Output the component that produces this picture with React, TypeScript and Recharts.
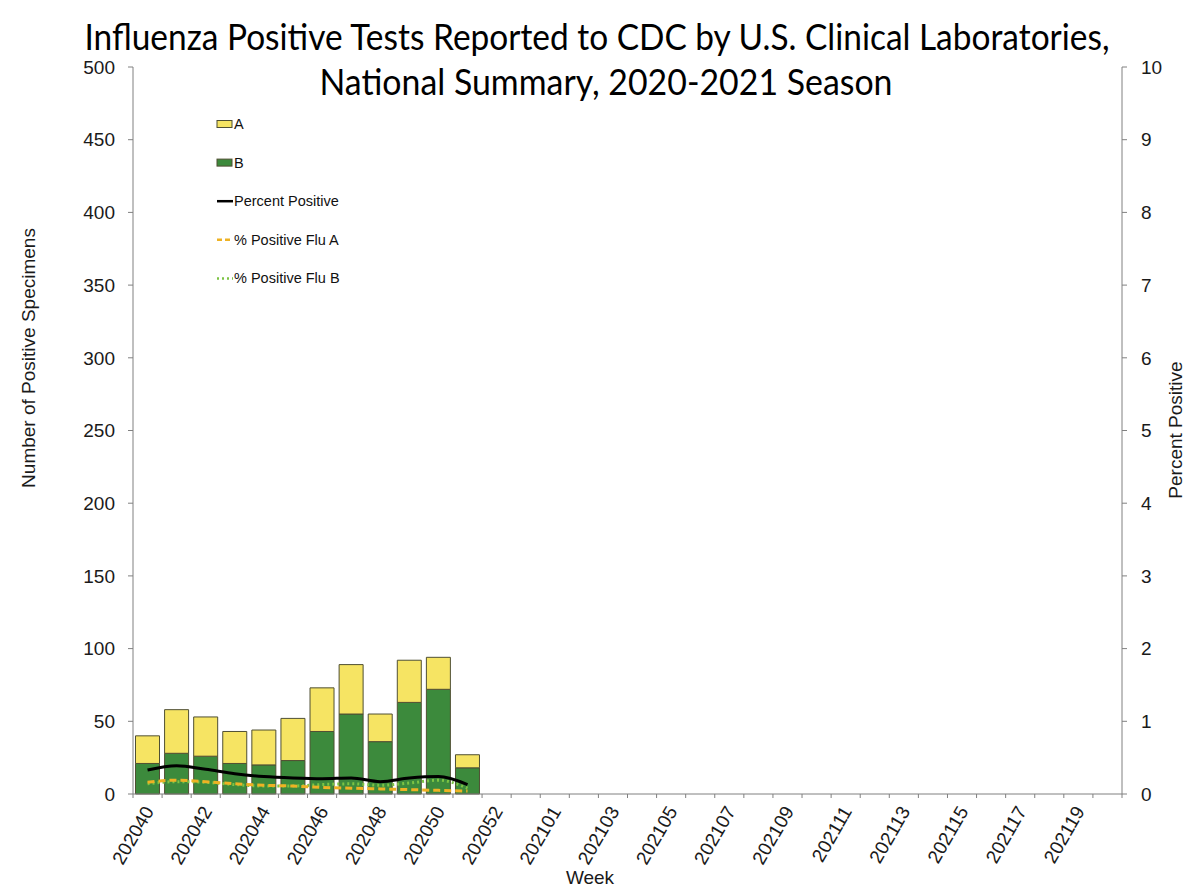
import { ComposedChart, Bar, Line, XAxis, YAxis, Legend } from "recharts";

// weeks of the 2020-2021 season (2020 has a week 53)
const WEEKS = [
  "202040", "202041", "202042", "202043", "202044", "202045", "202046", "202047",
  "202048", "202049", "202050", "202051", "202052", "202053",
  "202101", "202102", "202103", "202104", "202105", "202106", "202107", "202108",
  "202109", "202110", "202111", "202112", "202113", "202114", "202115", "202116",
  "202117", "202118", "202119", "202120",
];

// positive specimens, only reported through week 51
const FLU_A = [19, 30, 27, 22, 24, 29, 30, 34, 19, 29, 22, 9];
const FLU_B = [21, 28, 26, 21, 20, 23, 43, 55, 36, 63, 72, 18];

// percent positive (right axis)
const PCT_POSITIVE = [0.33, 0.39, 0.34, 0.28, 0.24, 0.22, 0.21, 0.22, 0.17, 0.22, 0.24, 0.13];
const PCT_FLU_A = [0.16, 0.19, 0.17, 0.14, 0.12, 0.11, 0.09, 0.08, 0.07, 0.06, 0.05, 0.04];
const PCT_FLU_B = [0.14, 0.17, 0.16, 0.13, 0.11, 0.11, 0.13, 0.14, 0.12, 0.15, 0.19, 0.08];

const LEFT_TICKS = [0, 50, 100, 150, 200, 250, 300, 350, 400, 450, 500];
const RIGHT_TICKS = [0, 1, 2, 3, 4, 5, 6, 7, 8, 9, 10];

const YELLOW = "#F6E463";
const GREEN = "#3C8A3C";
const BAR_EDGE = "#4f4f33";
const ORANGE = "#EEB224";
const LIGHT_GREEN = "#7CC444";
const AXIS = "#808080";
const FONT = "'Liberation Sans', Arial, sans-serif";

const PLOT_W = 989;

const data = WEEKS.map((week, i) => ({
  week,
  a: FLU_A[i] ?? null,
  b: FLU_B[i] ?? null,
  pct: PCT_POSITIVE[i] ?? null,
  pctA: PCT_FLU_A[i] ?? null,
  pctB: PCT_FLU_B[i] ?? null,
}));

const LEGEND_ITEMS = [
  { name: "A", kind: "box", color: YELLOW },
  { name: "B", kind: "box", color: GREEN },
  { name: "Percent Positive", kind: "line", color: "#000", dash: undefined },
  { name: "% Positive Flu A", kind: "line", color: ORANGE, dash: "5 3" },
  { name: "% Positive Flu B", kind: "line", color: LIGHT_GREEN, dash: "2 3" },
];

function WeekTick(props: any) {
  const { x, y, payload } = props;
  const index = props.index ?? payload.index;
  const band = PLOT_W / WEEKS.length;
  const left = x - band / 2;
  return (
    <g>
      <line x1={left} x2={left} y1={y} y2={y + 4} stroke={AXIS} />
      {index === WEEKS.length - 1 && (
        <line x1={x + band / 2} x2={x + band / 2} y1={y} y2={y + 4} stroke={AXIS} />
      )}
      {index % 2 === 0 && (
        <text
          x={x + 7}
          y={y + 17}
          textAnchor="end"
          transform={`rotate(-60, ${x + 7}, ${y + 17})`}
          fontSize={19}
          fontFamily={FONT}
          fill="#1a1a1a"
        >
          {payload.value}
        </text>
      )}
    </g>
  );
}

function FluLegend() {
  const rowH = 38.6;
  return (
    <svg width={220} height={200}>
      {LEGEND_ITEMS.map((item, i) => {
        const cy = 12 + i * rowH;
        return (
          <g key={item.name}>
            {item.kind === "box" ? (
              <rect x={7} y={cy - 3.5} width={15} height={7} fill={item.color} stroke={BAR_EDGE} strokeWidth={1} />
            ) : (
              <line
                x1={7}
                x2={23}
                y1={cy}
                y2={cy}
                stroke={item.color}
                strokeWidth={2.5}
                strokeDasharray={item.dash}
              />
            )}
            <text x={24} y={cy + 5} fontSize={14.5} fontFamily={FONT} fill="#111">
              {item.name}
            </text>
          </g>
        );
      })}
    </svg>
  );
}

export default function App() {
  return (
    <div style={{ position: "relative", width: 1200, height: 890, background: "#fff" }}>
      <style>{"body{margin:0}"}</style>
      <ComposedChart
        width={1200}
        height={890}
        data={data}
        margin={{ top: 67, right: 18, bottom: 0, left: 73 }}
        barCategoryGap={2.5}
      >
        <XAxis
          dataKey="week"
          interval={0}
          height={96}
          tickLine={false}
          tickSize={0}
          tickMargin={0}
          stroke={AXIS}
          tick={<WeekTick />}
        />
        <YAxis
          yAxisId="left"
          domain={[0, 500]}
          ticks={LEFT_TICKS}
          width={60}
          tickSize={5}
          tickMargin={13}
          stroke={AXIS}
          tick={{ fontSize: 19, fontFamily: FONT, fill: "#1a1a1a" }}
        />
        <YAxis
          yAxisId="right"
          orientation="right"
          domain={[0, 10]}
          ticks={RIGHT_TICKS}
          width={60}
          tickSize={5}
          tickMargin={14}
          stroke={AXIS}
          tick={{ fontSize: 19, fontFamily: FONT, fill: "#1a1a1a" }}
        />
        <Legend
          layout="vertical"
          align="center"
          verticalAlign="middle"
          wrapperStyle={{ left: 210, top: 112, width: 220, height: 200 }}
          content={() => <FluLegend />}
        />
        <Bar yAxisId="left" dataKey="b" name="B" stackId="flu" fill={GREEN} stroke={BAR_EDGE} strokeWidth={1} isAnimationActive={false} />
        <Bar yAxisId="left" dataKey="a" name="A" stackId="flu" fill={YELLOW} stroke={BAR_EDGE} strokeWidth={1} isAnimationActive={false} />
        <Line yAxisId="right" type="monotone" dataKey="pctB" name="% Positive Flu B" stroke={LIGHT_GREEN} strokeWidth={3} strokeDasharray="2 3" dot={false} isAnimationActive={false} />
        <Line yAxisId="right" type="monotone" dataKey="pctA" name="% Positive Flu A" stroke={ORANGE} strokeWidth={3} strokeDasharray="7 4" dot={false} isAnimationActive={false} />
        <Line yAxisId="right" type="monotone" dataKey="pct" name="Percent Positive" stroke="#000" strokeWidth={3} dot={false} isAnimationActive={false} />
      </ComposedChart>
      <svg width={1200} height={890} style={{ position: "absolute", left: 0, top: 0, pointerEvents: "none" }}>
        <text x={597} y={50} textAnchor="middle" fontSize={36} fontFamily="Lato, 'Open Sans', sans-serif" textLength={1025} lengthAdjust="spacingAndGlyphs" fill="#000">
          Influenza Positive Tests Reported to CDC by U.S. Clinical Laboratories,
        </text>
        <text x={606} y={95} textAnchor="middle" fontSize={36} fontFamily="Lato, 'Open Sans', sans-serif" textLength={573} lengthAdjust="spacingAndGlyphs" fill="#000">
          National Summary, 2020-2021 Season
        </text>
        <text x={35} y={358} textAnchor="middle" fontSize={19} fontFamily={FONT} fill="#1a1a1a" transform="rotate(-90, 35, 358)">
          Number of Positive Specimens
        </text>
        <text x={1182} y={430} textAnchor="middle" fontSize={19} fontFamily={FONT} fill="#1a1a1a" transform="rotate(-90, 1182, 430)">
          Percent Positive
        </text>
        <text x={590} y={884} textAnchor="middle" fontSize={19} fontFamily={FONT} fill="#1a1a1a">
          Week
        </text>
      </svg>
    </div>
  );
}
